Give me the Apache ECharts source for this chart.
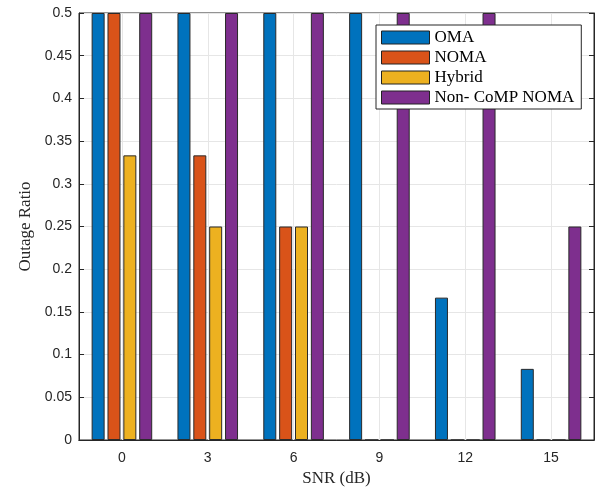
<!DOCTYPE html>
<html><head><meta charset="utf-8">
<script src="https://cdn.jsdelivr.net/npm/echarts@6/dist/echarts.min.js"></script>
<style>html,body{margin:0;padding:0;background:#fff}#c{width:601px;height:490px}</style>
</head><body><div id="c"></div>
<script>
const categories = ['0', '3', '6', '9', '12', '15'];
const omaValues = [0.5, 0.5, 0.5, 0.5, 0.1667, 0.0833];
const nomaValues = [0.5, 0.3333, 0.25, 0, 0, 0];
const hybridValues = [0.3333, 0.25, 0.25, 0, 0, 0];
const nonCompValues = [0.5, 0.5, 0.5, 0.5, 0.5, 0.25];
const seriesNames = ['OMA', 'NOMA', 'Hybrid', 'Non- CoMP NOMA'];
const colors = ['#0072BD', '#D95319', '#EDB120', '#7E2F8E'];

const chart = echarts.init(document.getElementById('c'));
const sansFont = '"Liberation Sans", Arial, sans-serif';
const serifFont = '"Liberation Serif", "DejaVu Serif", serif';
const axisColor = '#262626';
const data = [omaValues, nomaValues, hybridValues, nonCompValues];
chart.setOption({
  animation: false,
  grid: { left: 79, right: 7, top: 13, bottom: 50, show: true, borderColor: axisColor, borderWidth: 1,
    outerBoundsMode: 'none', containLabel: false },
  legend: {
    orient: 'vertical', left: 376, top: 25,
    data: seriesNames,
    icon: 'rect',
    itemWidth: 48, itemHeight: 13, itemGap: 3,
    padding: [4, 7, 3, 5],
    backgroundColor: '#fff', borderColor: axisColor, borderWidth: 1, borderRadius: 0,
    textStyle: { fontFamily: serifFont, fontSize: 17, color: '#000' },
    itemStyle: { borderColor: '#222', borderWidth: 1 }
  },
  xAxis: [{
    type: 'category', data: categories, position: 'bottom',
    name: 'SNR (dB)', nameLocation: 'middle', nameGap: 28,
    nameTextStyle: { fontFamily: serifFont, fontSize: 17, color: axisColor },
    axisLine: { lineStyle: { color: axisColor } },
    axisTick: { inside: true, alignWithLabel: true, length: 5, lineStyle: { color: axisColor } },
    axisLabel: { fontFamily: sansFont, fontSize: 14, color: axisColor, margin: 11 },
    splitLine: { show: true, alignWithLabel: true, lineStyle: { color: '#e6e6e6' } }
  }, {
    type: 'category', data: categories, position: 'top',
    axisLine: { lineStyle: { color: axisColor } },
    axisTick: { inside: true, alignWithLabel: true, length: 5, lineStyle: { color: axisColor } },
    axisLabel: { show: false }, splitLine: { show: false }
  }],
  yAxis: [{
    type: 'value', min: 0, max: 0.5, interval: 0.05,
    name: 'Outage Ratio', nameLocation: 'middle', nameGap: 45,
    nameTextStyle: { fontFamily: serifFont, fontSize: 17, color: axisColor },
    axisLine: { show: true, lineStyle: { color: axisColor } },
    axisTick: { show: true, inside: true, length: 5, lineStyle: { color: axisColor } },
    axisLabel: { fontFamily: sansFont, fontSize: 14, color: axisColor, margin: 7,
      formatter: v => String(Math.round(v * 100) / 100) },
    splitLine: { show: true, lineStyle: { color: '#e6e6e6' } }
  }, {
    type: 'value', min: 0, max: 0.5, interval: 0.05, position: 'right',
    axisLine: { show: true, lineStyle: { color: axisColor } },
    axisTick: { show: true, inside: true, length: 5, lineStyle: { color: axisColor } },
    axisLabel: { show: false }, splitLine: { show: false }
  }],
  series: seriesNames.map((n, i) => ({
    name: n, type: 'bar', data: data[i], xAxisIndex: 0, yAxisIndex: 0,
    barWidth: 13, barGap: '22%',
    itemStyle: { color: colors[i], borderColor: '#2a2a2a', borderWidth: 1 }
  }))
});
</script></body></html>
